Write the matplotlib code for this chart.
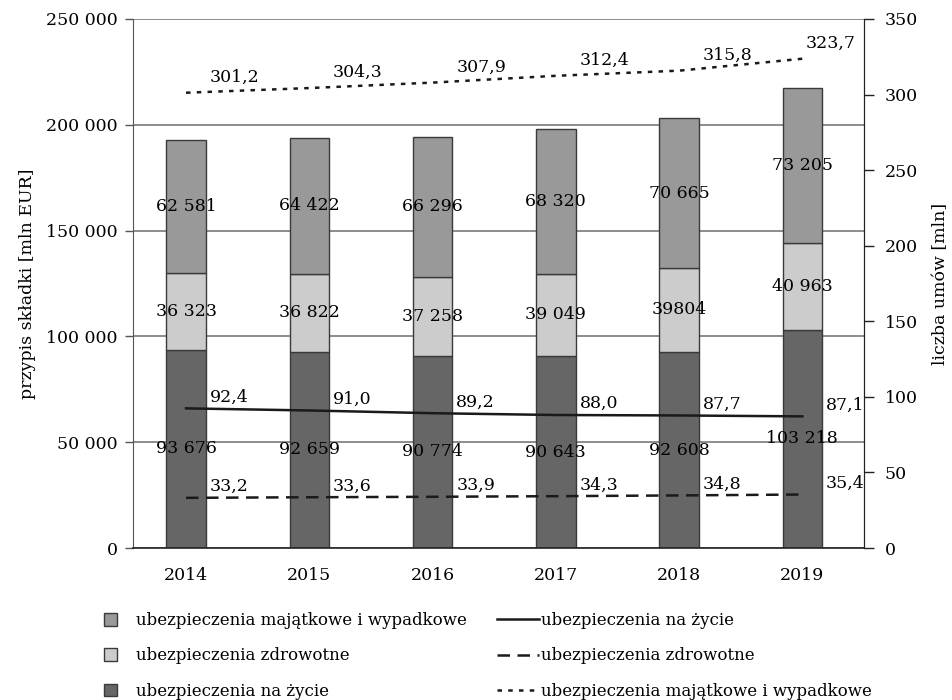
import matplotlib
matplotlib.use('Agg')
import matplotlib.pyplot as plt
from matplotlib.patches import Patch
from matplotlib.lines import Line2D
import numpy as np

plt.rcParams['font.family'] = ['DejaVu Serif']
plt.rcParams['font.size'] = 12.5

years = ['2014', '2015', '2016', '2017', '2018', '2019']

# premiums written [mln EUR], stacked bottom -> top
zycie = [93676, 92659, 90774, 90643, 92608, 103218]
zdrowotne = [36323, 36822, 37258, 39049, 39804, 40963]
majatkowe = [62581, 64422, 66296, 68320, 70665, 73205]
zycie_lbl = ['93 676', '92 659', '90 774', '90 643', '92 608', '103 218']
zdrowotne_lbl = ['36 323', '36 822', '37 258', '39 049', '39804', '40 963']
majatkowe_lbl = ['62 581', '64 422', '66 296', '68 320', '70 665', '73 205']

# number of contracts [mln]
umowy_zycie = [92.4, 91.0, 89.2, 88.0, 87.7, 87.1]
umowy_zdrowotne = [33.2, 33.6, 33.9, 34.3, 34.8, 35.4]
umowy_majatkowe = [301.2, 304.3, 307.9, 312.4, 315.8, 323.7]

c_top, c_mid, c_bot = '#999999', '#cccccc', '#666666'
edge = '#3a3a3a'

fig = plt.figure(figsize=(9.53, 7.0), dpi=100)
ax = fig.add_axes([0.1396, 0.2171, 0.767, 0.7558])
ax2 = ax.twinx()

x = np.arange(len(years))
w = 0.32
bot = np.array(zycie)
mid = bot + np.array(zdrowotne)

ax.bar(x, zycie, w, color=c_bot, edgecolor=edge, lw=1, zorder=2)
ax.bar(x, zdrowotne, w, bottom=bot, color=c_mid, edgecolor=edge, lw=1, zorder=2)
ax.bar(x, majatkowe, w, bottom=mid, color=c_top, edgecolor=edge, lw=1, zorder=2)

for i in range(len(years)):
    ax.text(x[i], zycie[i] / 2, zycie_lbl[i], ha='center', va='center', zorder=3)
    ax.text(x[i], bot[i] + zdrowotne[i] / 2, zdrowotne_lbl[i], ha='center', va='center', zorder=3)
    ax.text(x[i], mid[i] + majatkowe[i] / 2, majatkowe_lbl[i], ha='center', va='center', zorder=3)

ax.set_ylim(0, 250000)
ax.set_yticks(np.arange(0, 250001, 50000))
ax.set_yticklabels(['0', '50 000', '100 000', '150 000', '200 000', '250 000'])
ax.set_xlim(-0.43, 5.5)
ax.set_xticks(x)
ax.set_xticklabels(years)
ax.yaxis.grid(True, color='#6e6e6e', lw=1.1, zorder=0)
ax.set_axisbelow(True)
ax.tick_params(axis='x', length=0, pad=14)
ax.tick_params(axis='y', length=6, width=1, color='#555555', pad=5)
ax.set_ylabel('przypis składki [mln EUR]', labelpad=7)

for s in ['top']:
    ax.spines[s].set_visible(False)
    ax2.spines[s].set_visible(False)
ax.spines['left'].set_color('#555555')
ax.spines['bottom'].set_color('#222222')
ax.spines['bottom'].set_linewidth(1.2)
ax2.spines['left'].set_visible(False)
ax2.spines['bottom'].set_visible(False)
ax2.spines['right'].set_color('#222222')

ax2.plot(x, umowy_zycie, color='#1a1a1a', lw=1.8, ls='-')
ax2.plot(x, umowy_zdrowotne, color='#1a1a1a', lw=1.8, ls=(0, (5, 3)))
ax2.plot(x, umowy_majatkowe, color='#1a1a1a', lw=1.8, ls=(0, (1.8, 2.5)))

fmt = lambda v: ('%.1f' % v).replace('.', ',')
for i in range(len(years)):
    ax2.annotate(fmt(umowy_zycie[i]), (x[i], umowy_zycie[i]), xytext=(17, 2),
                 textcoords='offset points', ha='left', va='bottom')
    ax2.annotate(fmt(umowy_zdrowotne[i]), (x[i], umowy_zdrowotne[i]), xytext=(17, 2),
                 textcoords='offset points', ha='left', va='bottom')
    dx = 2 if i == len(years) - 1 else 17
    ax2.annotate(fmt(umowy_majatkowe[i]), (x[i], umowy_majatkowe[i]), xytext=(dx, 5),
                 textcoords='offset points', ha='left', va='bottom')

ax2.set_ylim(0, 350)
ax2.set_yticks(np.arange(0, 351, 50))
ax2.tick_params(axis='y', length=7, width=1, color='#222222', pad=8)
ax2.set_ylabel('liczba umów [mln]', labelpad=10)

bar_handles = [Patch(facecolor=c_top, edgecolor=edge, lw=1),
               Patch(facecolor=c_mid, edgecolor=edge, lw=1),
               Patch(facecolor=c_bot, edgecolor=edge, lw=1)]
bar_labels = ['ubezpieczenia majątkowe i wypadkowe', 'ubezpieczenia zdrowotne',
              'ubezpieczenia na życie']
line_handles = [Line2D([], [], color='#1a1a1a', lw=1.8, ls='-'),
                Line2D([], [], color='#1a1a1a', lw=1.8, ls=(0, (5, 3))),
                Line2D([], [], color='#1a1a1a', lw=1.8, ls=(0, (1.8, 2.5)))]
line_labels = ['ubezpieczenia na życie', 'ubezpieczenia zdrowotne',
               'ubezpieczenia majątkowe i wypadkowe']

leg1 = fig.legend(bar_handles, bar_labels, loc='upper left', fontsize=12,
                  bbox_to_anchor=(104 / 953, 1 - 612 / 700), frameon=False,
                  handlelength=0.8, handleheight=0.8, handletextpad=1.1,
                  labelspacing=1.1, borderpad=0, borderaxespad=0)
leg2 = fig.legend(line_handles, line_labels, loc='upper left', fontsize=12,
                  bbox_to_anchor=(497 / 953, 1 - 612 / 700), frameon=False,
                  handlelength=2.5, handletextpad=0.15,
                  labelspacing=1.1, borderpad=0, borderaxespad=0)

fig.savefig('out.png', dpi=100)
